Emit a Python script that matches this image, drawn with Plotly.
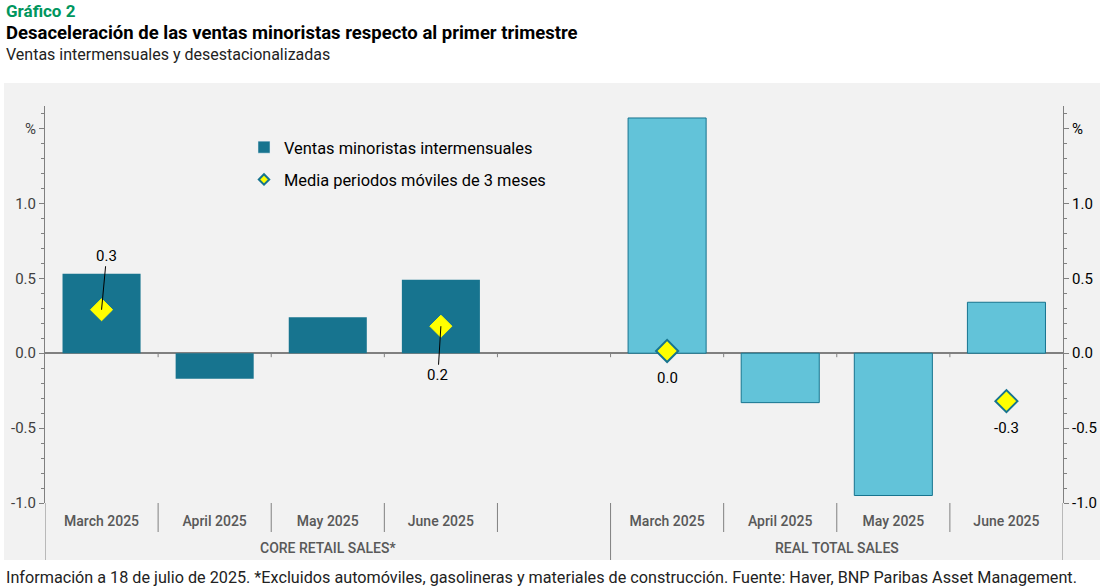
import plotly.graph_objects as go

# categories (blank slot separates the two groups)
months = ["March 2025", "April 2025", "May 2025", "June 2025"]
groups = ["CORE RETAIL SALES*", "REAL TOTAL SALES"]

core_sales = [0.53, -0.17, 0.24, 0.49]
real_sales = [1.57, -0.33, -0.95, 0.34]

# 3-month moving average, only shown for March and June
avg_months = ["March 2025", "June 2025"]
core_avg = [0.29, 0.18]
real_avg = [0.015, -0.32]

y_tickvals = [-1.0, -0.5, 0.0, 0.5, 1.0, 1.5]
y_ticktext = ["-1.0", "-0.5", "0.0", "0.5", "1.0", "%"]

DARK = "#17748F"
LIGHT = "#62C3D9"
YELLOW = "#FFFF00"
GREEN = "#00965E"
FONT = "Roboto"

W, H = 1102, 588
L, R, T, B = 45, 1063, 106, 503


def px_x(px):
    return (px - L) / (R - L)


def px_y(py):
    return (B - py) / (B - T)


core_x = list(range(len(months)))
real_x = [len(months) + 1 + i for i in range(len(months))]
core_avg_x = [core_x[months.index(m)] for m in avg_months]
real_avg_x = [real_x[months.index(m)] for m in avg_months]
n_slots = len(months) * 2 + 1

fig = go.Figure()
fig.add_trace(go.Bar(x=core_x, y=core_sales, marker_color=DARK, marker_line_width=0, showlegend=False))
fig.add_trace(go.Bar(x=real_x, y=real_sales, marker_color=LIGHT, marker_line=dict(color=DARK, width=1),
                     showlegend=False, yaxis="y2"))
fig.add_trace(go.Scatter(x=core_avg_x, y=core_avg, mode="markers", showlegend=False,
                         marker=dict(symbol="diamond", size=17, color=YELLOW, line=dict(color=YELLOW, width=1))))
fig.add_trace(go.Scatter(x=real_avg_x, y=real_avg, mode="markers", showlegend=False, yaxis="y2",
                         marker=dict(symbol="diamond", size=17, color=YELLOW, line=dict(color=DARK, width=2))))

# legend-only entries
fig.add_trace(go.Bar(x=[None], y=[None], marker_color=DARK, name="Ventas minoristas intermensuales",
                     legendgroup="a"))
fig.add_trace(go.Scatter(x=[None], y=[None], mode="markers", name="Media periodos móviles de 3 meses",
                         legendgroup="b",
                         marker=dict(symbol="diamond", size=8, color=YELLOW, line=dict(color=DARK, width=2))))

annotations = []
# data labels
annotations.append(dict(x=core_avg_x[0], y=core_avg[0], text=f"{core_avg[0]:.1f}", showarrow=True,
                        arrowhead=0, arrowwidth=1, arrowcolor="black", ax=5, ay=-54,
                        font=dict(size=15, color="black")))
annotations.append(dict(x=core_avg_x[1], y=core_avg[1], text=f"{core_avg[1]:.1f}", showarrow=True,
                        arrowhead=0, arrowwidth=1, arrowcolor="black", ax=-3, ay=49,
                        font=dict(size=15, color="black")))
for xv, yv in zip(real_avg_x, real_avg):
    annotations.append(dict(x=xv, y=yv, yref="y2", text=f"{yv:.1f}", showarrow=False, yshift=-27,
                            font=dict(size=15, color="black")))

# group labels under the month labels
group_spans = [(core_x[0] - 0.5, real_x[0] - 0.5), (real_x[0] - 0.5, real_x[-1] + 0.5)]
for name, (a, b) in zip(groups, group_spans):
    annotations.append(dict(x=(a + b) / 2, y=px_y(548), yref="paper", yanchor="middle", text=name,
                            showarrow=False, font=dict(size=14, color="#595959", family=FONT + " Medium")))

# titles and footnote
text_rows = [
    (11, "<b>Gráfico 2</b>", 17, GREEN),
    (33, "<b>Desaceleración de las ventas minoristas respecto al primer trimestre</b>", 18.5, "black"),
    (55, "Ventas intermensuales y desestacionalizadas", 16, "#222222"),
    (577, "Información a 18 de julio de 2025. *Excluidos automóviles, gasolineras y materiales de "
          "construcción. Fuente: Haver, BNP Paribas Asset Management.", 16.2, "#222222"),
]
for py, txt, size, color in text_rows:
    annotations.append(dict(x=px_x(4), y=px_y(py), xref="paper", yref="paper", xanchor="left",
                            yanchor="middle", showarrow=False, text=txt, font=dict(size=size, color=color)))

shapes = [
    # gray panel behind the chart
    dict(type="rect", xref="paper", yref="paper", x0=px_x(4), x1=px_x(1100), y0=px_y(560), y1=px_y(83),
         fillcolor="#F2F2F2", line_width=0, layer="below"),
]
# small ticks on the zero line and separators below the axis
boundaries = [i + 0.5 for i in range(-1, n_slots)]
for bnd in boundaries:
    if -0.5 < bnd < n_slots - 0.5:
        shapes.append(dict(type="line", xref="x", yref="y", ysizemode="pixel", yanchor=0, y0=0, y1=-4,
                           x0=bnd, x1=bnd, line=dict(color="#808080", width=1)))
    full = bnd in (-0.5, real_x[0] - 0.5, n_slots - 0.5)
    shapes.append(dict(type="line", xref="x", yref="paper", x0=bnd, x1=bnd, y0=0,
                       y1=px_y(560) if full else px_y(532), line=dict(color="#808080", width=1)))

yaxis_common = dict(
    range=[-1.0, 1.65], tickmode="array", tickvals=y_tickvals, ticktext=y_ticktext, automargin=False,
    ticks="outside", ticklen=5, tickcolor="#808080", showline=True, linecolor="#808080", linewidth=1,
    showgrid=False, zeroline=True, zerolinecolor="#808080", zerolinewidth=1.5,
    minor=dict(tickmode="linear", tick0=0, dtick=0.1, ticks="outside", ticklen=3, tickcolor="#808080"),
)

fig.update_layout(
    width=W, height=H,
    margin=dict(l=L, r=W - R, t=T, b=H - B, autoexpand=False),
    paper_bgcolor="white", plot_bgcolor="#F2F2F2",
    font=dict(family=FONT, size=14, color="black"),
    barmode="overlay", bargap=0.31,
    xaxis=dict(range=[-0.5, n_slots - 0.5], tickmode="array", tickvals=core_x + real_x, automargin=False,
               ticktext=months + months, ticks="", showgrid=False, zeroline=False, showline=False,
               ticklabelstandoff=8,
               tickfont=dict(size=14, color="#595959", family=FONT + " Medium")),
    yaxis=dict(side="left", tickfont=dict(size=15, color="#404040"), **yaxis_common),
    yaxis2=dict(side="right", overlaying="y", matches="y", tickfont=dict(size=15, color="black"),
                **yaxis_common),
    legend=dict(x=px_x(244), y=px_y(130), xanchor="left", yanchor="top", bgcolor="rgba(0,0,0,0)",
                font=dict(size=16.4), traceorder="grouped", tracegroupgap=8, itemwidth=30),
    annotations=annotations,
    shapes=shapes,
)

fig.write_html("out.html", config={"displayModeBar": False},
               post_script="document.body.style.margin = '0';")
